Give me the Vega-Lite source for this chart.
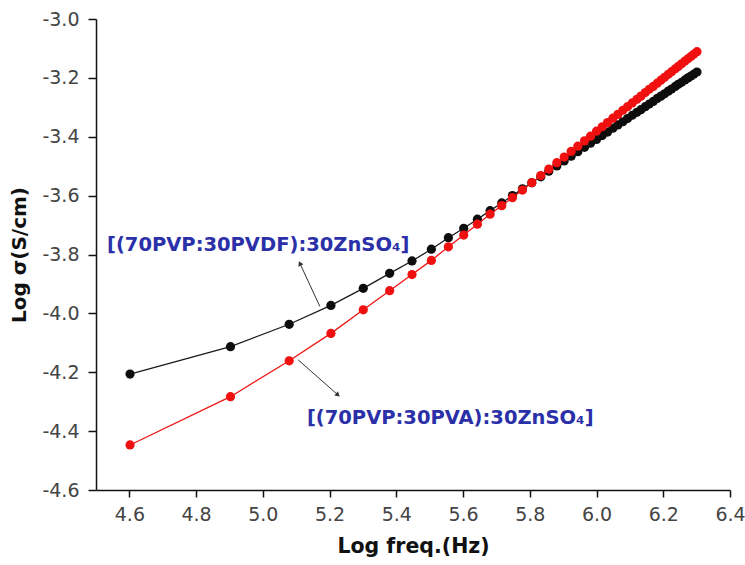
{
  "$schema": "https://vega.github.io/schema/vega-lite/v6.json",
  "width": 634,
  "height": 471,
  "autosize": {"type": "none"},
  "padding": {"left": 96, "top": 19, "right": 15, "bottom": 75},
  "background": "white",
  "config": {"view": {"stroke": null}},
  "datasets": {
    "main": [
      {"series": "PVDF", "logf": 4.602, "logs": -4.206},
      {"series": "PVDF", "logf": 4.903, "logs": -4.113},
      {"series": "PVDF", "logf": 5.079, "logs": -4.037},
      {"series": "PVDF", "logf": 5.204, "logs": -3.973},
      {"series": "PVDF", "logf": 5.301, "logs": -3.915},
      {"series": "PVDF", "logf": 5.380, "logs": -3.864},
      {"series": "PVDF", "logf": 5.447, "logs": -3.822},
      {"series": "PVDF", "logf": 5.505, "logs": -3.782},
      {"series": "PVDF", "logf": 5.556, "logs": -3.743},
      {"series": "PVDF", "logf": 5.602, "logs": -3.711},
      {"series": "PVDF", "logf": 5.643, "logs": -3.680},
      {"series": "PVDF", "logf": 5.681, "logs": -3.651},
      {"series": "PVDF", "logf": 5.716, "logs": -3.625},
      {"series": "PVDF", "logf": 5.748, "logs": -3.600},
      {"series": "PVDF", "logf": 5.778, "logs": -3.577},
      {"series": "PVDF", "logf": 5.806, "logs": -3.556},
      {"series": "PVDF", "logf": 5.833, "logs": -3.536},
      {"series": "PVDF", "logf": 5.857, "logs": -3.517},
      {"series": "PVDF", "logf": 5.881, "logs": -3.499},
      {"series": "PVDF", "logf": 5.903, "logs": -3.482},
      {"series": "PVDF", "logf": 5.924, "logs": -3.466},
      {"series": "PVDF", "logf": 5.944, "logs": -3.451},
      {"series": "PVDF", "logf": 5.964, "logs": -3.436},
      {"series": "PVDF", "logf": 5.982, "logs": -3.422},
      {"series": "PVDF", "logf": 6.000, "logs": -3.409},
      {"series": "PVDF", "logf": 6.017, "logs": -3.396},
      {"series": "PVDF", "logf": 6.033, "logs": -3.384},
      {"series": "PVDF", "logf": 6.049, "logs": -3.371},
      {"series": "PVDF", "logf": 6.064, "logs": -3.360},
      {"series": "PVDF", "logf": 6.079, "logs": -3.349},
      {"series": "PVDF", "logf": 6.093, "logs": -3.338},
      {"series": "PVDF", "logf": 6.107, "logs": -3.327},
      {"series": "PVDF", "logf": 6.121, "logs": -3.317},
      {"series": "PVDF", "logf": 6.133, "logs": -3.308},
      {"series": "PVDF", "logf": 6.146, "logs": -3.298},
      {"series": "PVDF", "logf": 6.158, "logs": -3.289},
      {"series": "PVDF", "logf": 6.170, "logs": -3.280},
      {"series": "PVDF", "logf": 6.182, "logs": -3.270},
      {"series": "PVDF", "logf": 6.193, "logs": -3.262},
      {"series": "PVDF", "logf": 6.204, "logs": -3.254},
      {"series": "PVDF", "logf": 6.215, "logs": -3.245},
      {"series": "PVDF", "logf": 6.225, "logs": -3.238},
      {"series": "PVDF", "logf": 6.236, "logs": -3.229},
      {"series": "PVDF", "logf": 6.245, "logs": -3.222},
      {"series": "PVDF", "logf": 6.255, "logs": -3.215},
      {"series": "PVDF", "logf": 6.265, "logs": -3.207},
      {"series": "PVDF", "logf": 6.274, "logs": -3.200},
      {"series": "PVDF", "logf": 6.283, "logs": -3.194},
      {"series": "PVDF", "logf": 6.292, "logs": -3.187},
      {"series": "PVDF", "logf": 6.301, "logs": -3.180},
      {"series": "PVA", "logf": 4.602, "logs": -4.447},
      {"series": "PVA", "logf": 4.903, "logs": -4.283},
      {"series": "PVA", "logf": 5.079, "logs": -4.161},
      {"series": "PVA", "logf": 5.204, "logs": -4.068},
      {"series": "PVA", "logf": 5.301, "logs": -3.988},
      {"series": "PVA", "logf": 5.380, "logs": -3.923},
      {"series": "PVA", "logf": 5.447, "logs": -3.868},
      {"series": "PVA", "logf": 5.505, "logs": -3.820},
      {"series": "PVA", "logf": 5.556, "logs": -3.774},
      {"series": "PVA", "logf": 5.602, "logs": -3.734},
      {"series": "PVA", "logf": 5.643, "logs": -3.697},
      {"series": "PVA", "logf": 5.681, "logs": -3.663},
      {"series": "PVA", "logf": 5.716, "logs": -3.634},
      {"series": "PVA", "logf": 5.748, "logs": -3.607},
      {"series": "PVA", "logf": 5.778, "logs": -3.581},
      {"series": "PVA", "logf": 5.806, "logs": -3.556},
      {"series": "PVA", "logf": 5.833, "logs": -3.532},
      {"series": "PVA", "logf": 5.857, "logs": -3.510},
      {"series": "PVA", "logf": 5.881, "logs": -3.488},
      {"series": "PVA", "logf": 5.903, "logs": -3.469},
      {"series": "PVA", "logf": 5.924, "logs": -3.450},
      {"series": "PVA", "logf": 5.944, "logs": -3.432},
      {"series": "PVA", "logf": 5.964, "logs": -3.414},
      {"series": "PVA", "logf": 5.982, "logs": -3.398},
      {"series": "PVA", "logf": 6.000, "logs": -3.381},
      {"series": "PVA", "logf": 6.017, "logs": -3.366},
      {"series": "PVA", "logf": 6.033, "logs": -3.352},
      {"series": "PVA", "logf": 6.049, "logs": -3.337},
      {"series": "PVA", "logf": 6.064, "logs": -3.324},
      {"series": "PVA", "logf": 6.079, "logs": -3.310},
      {"series": "PVA", "logf": 6.093, "logs": -3.298},
      {"series": "PVA", "logf": 6.107, "logs": -3.285},
      {"series": "PVA", "logf": 6.121, "logs": -3.273},
      {"series": "PVA", "logf": 6.133, "logs": -3.262},
      {"series": "PVA", "logf": 6.146, "logs": -3.250},
      {"series": "PVA", "logf": 6.158, "logs": -3.239},
      {"series": "PVA", "logf": 6.170, "logs": -3.229},
      {"series": "PVA", "logf": 6.182, "logs": -3.218},
      {"series": "PVA", "logf": 6.193, "logs": -3.208},
      {"series": "PVA", "logf": 6.204, "logs": -3.198},
      {"series": "PVA", "logf": 6.215, "logs": -3.188},
      {"series": "PVA", "logf": 6.225, "logs": -3.179},
      {"series": "PVA", "logf": 6.236, "logs": -3.169},
      {"series": "PVA", "logf": 6.245, "logs": -3.161},
      {"series": "PVA", "logf": 6.255, "logs": -3.152},
      {"series": "PVA", "logf": 6.265, "logs": -3.143},
      {"series": "PVA", "logf": 6.274, "logs": -3.135},
      {"series": "PVA", "logf": 6.283, "logs": -3.127},
      {"series": "PVA", "logf": 6.292, "logs": -3.119},
      {"series": "PVA", "logf": 6.301, "logs": -3.111}
    ],
    "arrows": [
      {"series": "PVDF", "logf": 5.171, "logs": -3.977, "logf2": 5.111, "logs2": -3.830},
      {"series": "PVA", "logf": 5.106, "logs": -4.158, "logf2": 5.225, "logs2": -4.277}
    ],
    "labels": [
      {"series": "PVDF", "logf": 4.533, "logs": -3.768, "text": "[(70PVP:30PVDF):30ZnSO₄]"},
      {"series": "PVA", "logf": 5.132, "logs": -4.355, "text": "[(70PVP:30PVA):30ZnSO₄]"}
    ]
  },
  "layer": [
    {
      "data": {"name": "main"},
      "transform": [{"filter": "datum.series == 'PVDF'"}],
      "mark": {"type": "line", "color": "#1a1a1a", "strokeWidth": 1.3},
      "encoding": {
        "x": {
          "field": "logf", "type": "quantitative", "title": "Log freq.(Hz)",
          "scale": {"domain": [4.5, 6.4], "nice": false, "zero": false},
          "axis": {
            "values": [4.6, 4.7, 4.8, 4.9, 5.0, 5.1, 5.2, 5.3, 5.4, 5.5, 5.6, 5.7, 5.8, 5.9, 6.0, 6.1, 6.2, 6.3, 6.4],
            "labelExpr": "abs(round(datum.value*10)) % 2 == 0 ? format(datum.value, '.1f') : ''",
            "tickSize": 7,
            "grid": false,
            "domainColor": "#111", "domainWidth": 1.5,
            "tickColor": "#111", "tickWidth": 1.5,
            "labelFont": "DejaVu Sans", "labelFontSize": 19, "labelColor": "#444",
            "labelPadding": 8, "labelFlush": false, "labelOverlap": false, "labelBound": false,
            "titleFont": "DejaVu Sans", "titleFontSize": 20.5, "titleFontWeight": "bold", "titleColor": "#111",
            "titlePadding": 12
          }
        },
        "y": {
          "field": "logs", "type": "quantitative", "title": "Log σ(S/cm)",
          "scale": {"domain": [-4.6, -3.0], "nice": false, "zero": false},
          "axis": {
            "values": [-4.6, -4.5, -4.4, -4.3, -4.2, -4.1, -4.0, -3.9, -3.8, -3.7, -3.6, -3.5, -3.4, -3.3, -3.2, -3.1, -3.0],
            "labelExpr": "abs(round(datum.value*10)) % 2 == 0 ? replace(format(datum.value, '.1f'), '\u2212', '-') : ''",
            "tickSize": {"condition": {"test": "abs(round(datum.value*10)) % 2 == 0", "value": 8}, "value": 4},
            "grid": false,
            "domainColor": "#111", "domainWidth": 1.5,
            "tickColor": "#111", "tickWidth": 1.5,
            "labelFont": "DejaVu Sans", "labelFontSize": 19, "labelColor": "#444",
            "labelPadding": 9, "labelFlush": false, "labelOverlap": false,
            "titleFont": "DejaVu Sans", "titleFontSize": 20, "titleFontWeight": "bold", "titleColor": "#111",
            "titlePadding": 12
          }
        }
      }
    },
    {
      "data": {"name": "main"},
      "transform": [{"filter": "datum.series == 'PVDF'"}],
      "mark": {"type": "point", "filled": true, "shape": "circle", "size": 85, "color": "#0d0d0d", "opacity": 1},
      "encoding": {
        "x": {"field": "logf", "type": "quantitative", "title": "Log freq.(Hz)"},
        "y": {"field": "logs", "type": "quantitative", "title": "Log σ(S/cm)"}
      }
    },
    {
      "data": {"name": "main"},
      "transform": [{"filter": "datum.series == 'PVA'"}],
      "mark": {"type": "line", "color": "#f01515", "strokeWidth": 1.3},
      "encoding": {
        "x": {"field": "logf", "type": "quantitative", "title": "Log freq.(Hz)"},
        "y": {"field": "logs", "type": "quantitative", "title": "Log σ(S/cm)"}
      }
    },
    {
      "data": {"name": "main"},
      "transform": [{"filter": "datum.series == 'PVA'"}],
      "mark": {"type": "point", "filled": true, "shape": "circle", "size": 85, "color": "#f01010", "opacity": 1},
      "encoding": {
        "x": {"field": "logf", "type": "quantitative", "title": "Log freq.(Hz)"},
        "y": {"field": "logs", "type": "quantitative", "title": "Log σ(S/cm)"}
      }
    },
    {
      "data": {"name": "arrows"},
      "mark": {"type": "rule", "color": "#333", "strokeWidth": 1},
      "encoding": {
        "x": {"field": "logf", "type": "quantitative", "title": "Log freq.(Hz)"},
        "y": {"field": "logs", "type": "quantitative", "title": "Log σ(S/cm)"},
        "x2": {"field": "logf2"},
        "y2": {"field": "logs2"}
      }
    },
    {
      "data": {"name": "arrows"},
      "transform": [{"filter": "datum.series == 'PVDF'"}],
      "mark": {"type": "point", "filled": true, "shape": "triangle-up", "size": 30, "color": "#333", "opacity": 1, "angle": 335},
      "encoding": {
        "x": {"field": "logf2", "type": "quantitative", "title": "Log freq.(Hz)"},
        "y": {"field": "logs2", "type": "quantitative", "title": "Log σ(S/cm)"}
      }
    },
    {
      "data": {"name": "arrows"},
      "transform": [{"filter": "datum.series == 'PVA'"}],
      "mark": {"type": "point", "filled": true, "shape": "triangle-up", "size": 30, "color": "#333", "opacity": 1, "angle": 131},
      "encoding": {
        "x": {"field": "logf2", "type": "quantitative", "title": "Log freq.(Hz)"},
        "y": {"field": "logs2", "type": "quantitative", "title": "Log σ(S/cm)"}
      }
    },
    {
      "data": {"name": "labels"},
      "mark": {"type": "text", "align": "left", "baseline": "middle", "font": "DejaVu Sans", "fontSize": 19.5, "fontWeight": "bold", "color": "#2b30a8"},
      "encoding": {
        "x": {"field": "logf", "type": "quantitative", "title": "Log freq.(Hz)"},
        "y": {"field": "logs", "type": "quantitative", "title": "Log σ(S/cm)"},
        "text": {"field": "text"}
      }
    }
  ]
}
